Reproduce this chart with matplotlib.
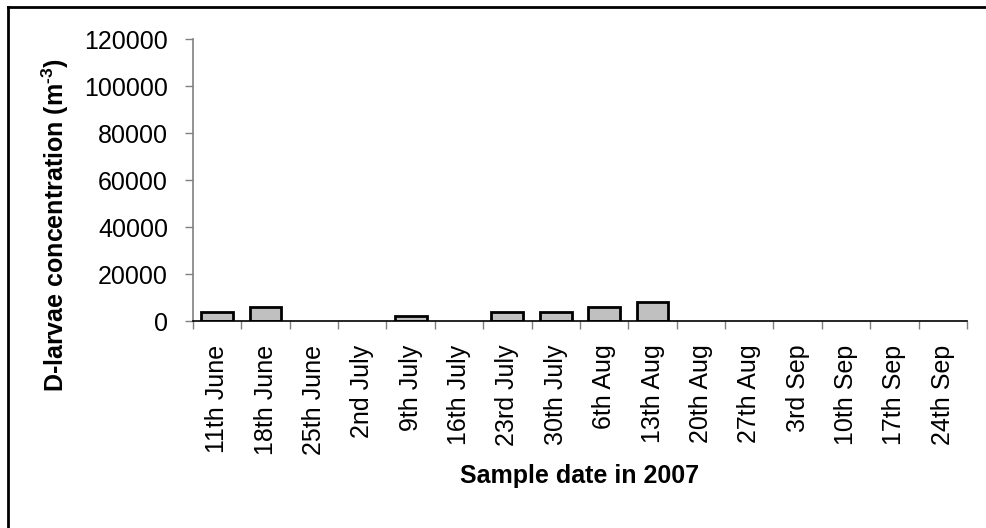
import matplotlib
matplotlib.use('Agg')
import matplotlib.pyplot as plt
import numpy as np
from matplotlib.lines import Line2D

plt.rcParams['font.family'] = ['Liberation Sans', 'DejaVu Sans']
plt.rcParams['mathtext.fontset'] = 'custom'
plt.rcParams['mathtext.rm'] = 'Liberation Sans:bold'
plt.rcParams['mathtext.default'] = 'rm'

dates = ['11th June', '18th June', '25th June', '2nd July', '9th July', '16th July',
         '23rd July', '30th July', '6th Aug', '13th Aug', '20th Aug', '27th Aug',
         '3rd Sep', '10th Sep', '17th Sep', '24th Sep']
larvae = [4000, 6000, 0, 0, 2000, 0, 4000, 4000, 6000, 8000, 0, 0, 0, 0, 0, 0]

fig = plt.figure(figsize=(9.87, 5.28), dpi=100)
ax = fig.add_axes([0.1955, 0.392, 0.7842, 0.534])

x = np.arange(len(dates))
ax.bar(x, larvae, width=0.66, color='#c0c0c0', edgecolor='black',
       linewidth=[2 if v else 0 for v in larvae])

ax.set_xlim(-0.5, len(dates) - 0.5)
ax.set_ylim(0, 120000)
ax.set_yticks(range(0, 120001, 20000))
ax.tick_params(axis='y', labelsize=18, length=6, width=1, color='#808080', direction='out', pad=12)

# category labels centred, tick marks on category boundaries
ax.set_xticks(x)
ax.set_xticklabels(dates, rotation=90, fontsize=18)
ax.tick_params(axis='x', which='major', length=0, pad=17)
ax.set_xticks(np.arange(-0.5, len(dates), 1), minor=True)
ax.tick_params(axis='x', which='minor', length=6, width=1, color='#808080')

for s in ['top', 'right']:
    ax.spines[s].set_visible(False)
ax.spines['left'].set_color('#808080')
ax.spines['left'].set_linewidth(1.2)
ax.spines['bottom'].set_color('black')
ax.spines['bottom'].set_linewidth(1.2)

ax.set_ylabel('D-larvae concentration (m$^{\\text{-3}}$)', fontsize=18, fontweight='bold')
ax.yaxis.set_label_coords(-0.178, 0.339)
ax.yaxis.label.set_va('center')
ax.yaxis.label.set_ha('center')
ax.set_xlabel('Sample date in 2007', fontsize=18, fontweight='bold')
ax.xaxis.set_label_coords(0.5, -0.551)
ax.xaxis.label.set_va('center')

# chart-area frame: only left and top edges fall inside the image
fig.add_artist(Line2D([8.5 / 987, 8.5 / 987], [0, 1 - 7 / 528], transform=fig.transFigure,
                      color='black', linewidth=2, solid_capstyle='projecting'))
fig.add_artist(Line2D([8.5 / 987, 1], [1 - 7 / 528, 1 - 7 / 528], transform=fig.transFigure,
                      color='black', linewidth=2, solid_capstyle='projecting'))

fig.savefig('out.png', dpi=100)
